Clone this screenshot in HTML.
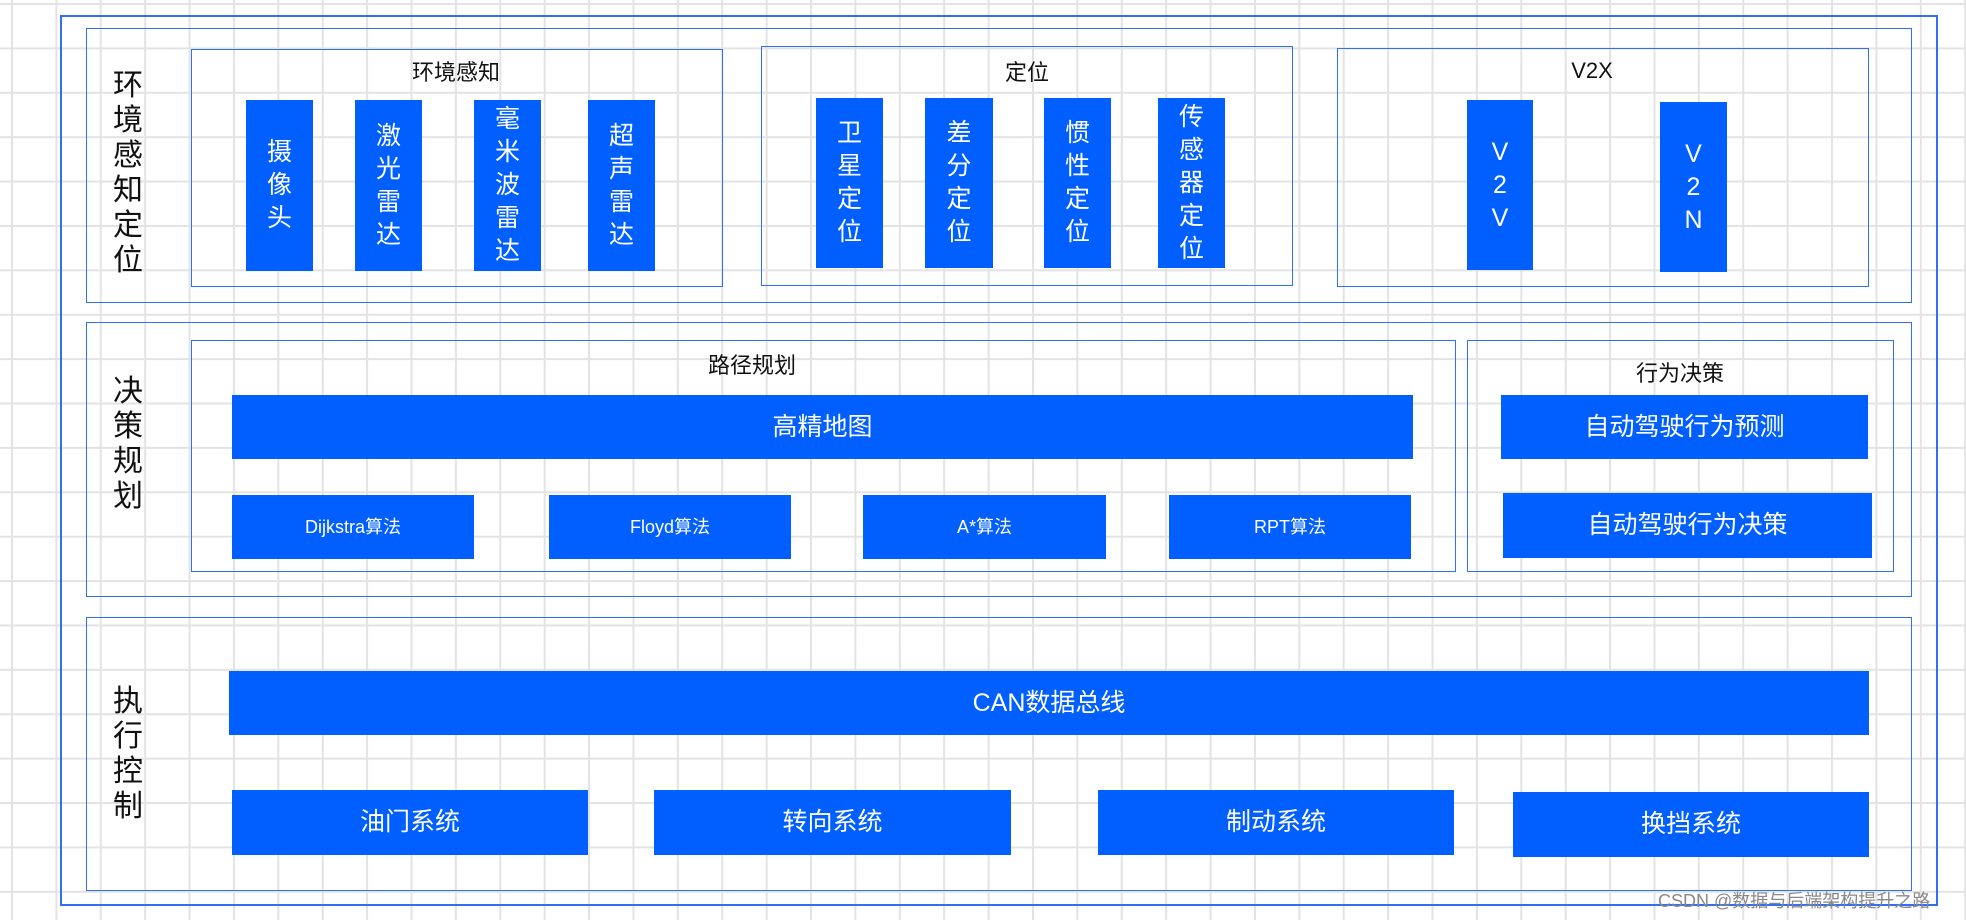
<!DOCTYPE html>
<html><head><meta charset="utf-8"><style>
*{margin:0;padding:0;box-sizing:border-box}
body{width:1966px;height:920px;position:relative;overflow:hidden;background-color:#fff;
background-image:linear-gradient(to right,#e3e3e6 2px,transparent 2px),linear-gradient(to bottom,#e3e3e6 2px,transparent 2px);
background-size:44.4px 44.4px;background-position:11px 3px;
font-family:"Liberation Sans","Noto Sans CJK SC",sans-serif}
.r{position:absolute;border:1.5px solid #2f6ef5}
.b{position:absolute;background:#005ffe;color:#fff;display:flex;align-items:center;justify-content:center;text-align:center;font-size:25px;line-height:33px}
.t{position:absolute;transform:translate(-50%,-50%);font-size:22px;color:#111;white-space:nowrap}
.l{position:absolute;font-size:30px;line-height:35px;color:#111;width:40px;text-align:center;transform:translateX(-50%)}
.s{font-size:18px}
</style></head><body>
<div class="r" style="left:60px;top:15px;width:1878px;height:891px;border-width:2px"></div>
<div class="r" style="left:86px;top:28px;width:1826px;height:275px"></div>
<div class="r" style="left:86px;top:322px;width:1826px;height:275px"></div>
<div class="r" style="left:86px;top:617px;width:1826px;height:274px"></div>

<div class="l" style="left:128px;top:68px">环<br>境<br>感<br>知<br>定<br>位</div>
<div class="l" style="left:128px;top:374px">决<br>策<br>规<br>划</div>
<div class="l" style="left:128px;top:684px">执<br>行<br>控<br>制</div>

<div class="r" style="left:191px;top:49px;width:532px;height:238px"></div>
<div class="r" style="left:761px;top:46px;width:532px;height:240px"></div>
<div class="r" style="left:1337px;top:48px;width:532px;height:239px"></div>
<div class="t" style="left:456px;top:71px">环境感知</div>
<div class="t" style="left:1027px;top:71px">定位</div>
<div class="t" style="left:1592px;top:71px">V2X</div>

<div class="b" style="left:246px;top:100px;width:67px;height:171px">摄<br>像<br>头</div>
<div class="b" style="left:355px;top:100px;width:67px;height:171px">激<br>光<br>雷<br>达</div>
<div class="b" style="left:474px;top:100px;width:67px;height:171px">毫<br>米<br>波<br>雷<br>达</div>
<div class="b" style="left:588px;top:100px;width:67px;height:171px">超<br>声<br>雷<br>达</div>
<div class="b" style="left:816px;top:98px;width:67px;height:170px">卫<br>星<br>定<br>位</div>
<div class="b" style="left:925px;top:98px;width:68px;height:170px">差<br>分<br>定<br>位</div>
<div class="b" style="left:1044px;top:98px;width:67px;height:170px">惯<br>性<br>定<br>位</div>
<div class="b" style="left:1158px;top:98px;width:67px;height:170px">传<br>感<br>器<br>定<br>位</div>
<div class="b" style="left:1467px;top:100px;width:66px;height:170px">V<br>2<br>V</div>
<div class="b" style="left:1660px;top:102px;width:67px;height:170px">V<br>2<br>N</div>

<div class="r" style="left:191px;top:340px;width:1265px;height:232px"></div>
<div class="r" style="left:1467px;top:340px;width:427px;height:232px"></div>
<div class="t" style="left:752px;top:364px">路径规划</div>
<div class="t" style="left:1680px;top:372px">行为决策</div>
<div class="b" style="left:232px;top:395px;width:1181px;height:64px">高精地图</div>
<div class="b s" style="left:232px;top:495px;width:242px;height:64px">Dijkstra算法</div>
<div class="b s" style="left:549px;top:495px;width:242px;height:64px">Floyd算法</div>
<div class="b s" style="left:863px;top:495px;width:243px;height:64px">A*算法</div>
<div class="b s" style="left:1169px;top:495px;width:242px;height:64px">RPT算法</div>
<div class="b" style="left:1501px;top:395px;width:367px;height:64px">自动驾驶行为预测</div>
<div class="b" style="left:1503px;top:493px;width:369px;height:65px">自动驾驶行为决策</div>

<div class="b" style="left:229px;top:671px;width:1640px;height:64px">CAN数据总线</div>
<div class="b" style="left:232px;top:790px;width:356px;height:65px">油门系统</div>
<div class="b" style="left:654px;top:790px;width:357px;height:65px">转向系统</div>
<div class="b" style="left:1098px;top:790px;width:356px;height:65px">制动系统</div>
<div class="b" style="left:1513px;top:792px;width:356px;height:65px">换挡系统</div>

<div style="position:absolute;left:1658px;top:887px;font-size:18px;color:#888;white-space:nowrap">CSDN @数据与后端架构提升之路</div>
</body></html>
